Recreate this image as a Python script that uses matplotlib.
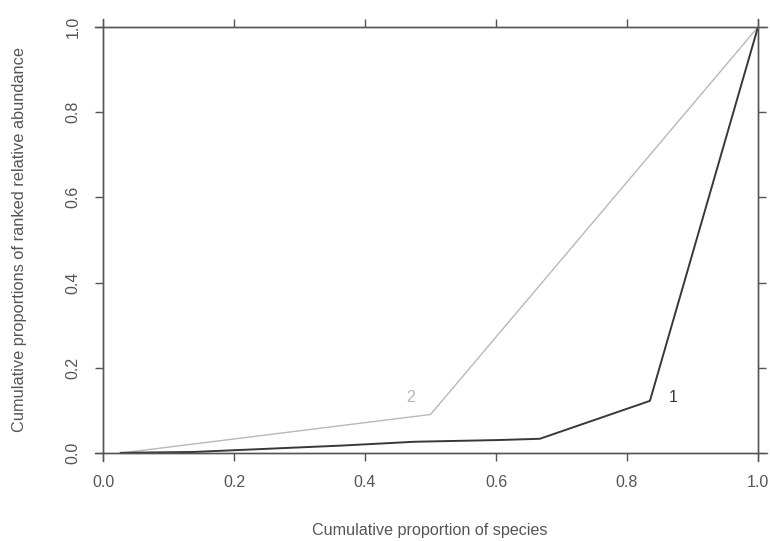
import matplotlib
matplotlib.use('Agg')
import matplotlib.pyplot as plt

plt.rcParams['font.family'] = ['Liberation Sans', 'DejaVu Sans']

# cumulative proportion of species (x) vs cumulative proportion of ranked abundance (y)
x1 = [0.027, 0.138, 0.229, 0.364, 0.476, 0.604, 0.667, 0.835, 1.0]
y1 = [0.0, 0.002, 0.008, 0.017, 0.026, 0.030, 0.033, 0.122, 1.0]
x2 = [0.03, 0.50, 1.0]
y2 = [0.0, 0.09, 1.0]

label_pos = {'1': (0.87, 0.13), '2': (0.47, 0.13)}

dark = '#383838'
light = '#b8b8b8'
axis_col = '#555555'
text_col = '#555555'

fig = plt.figure(figsize=(7.7, 5.41), dpi=100)
ax = fig.add_axes([0.1338, 0.163, 0.8506, 0.787])

ax.plot(x2, y2, color=light, linewidth=1.0)
ax.plot(x1, y1, color=dark, linewidth=1.4)

ax.text(*label_pos['1'], '1', color=dark, fontsize=11.5, ha='center', va='center')
ax.text(*label_pos['2'], '2', color=light, fontsize=11.5, ha='center', va='center')

ax.set_xlim(0, 1)
ax.set_ylim(0, 1)
ticks = [0.0, 0.2, 0.4, 0.6, 0.8, 1.0]
ax.set_xticks(ticks)
ax.set_yticks(ticks)
ax.set_xticklabels([f'{t:.1f}' for t in ticks])
ax.set_yticklabels([f'{t:.1f}' for t in ticks], rotation=90, va='center')

for s in ax.spines.values():
    s.set_color(axis_col)
    s.set_linewidth(1.0)

ax.tick_params(axis='both', which='both', direction='out', length=6, width=1.0,
               color=axis_col, labelcolor=text_col, labelsize=11.5,
               top=True, right=True, pad=10)

# axis lines running slightly past the corners
ext = 0.013
for y in (0, 1):
    ax.plot([-ext, 1 + ext], [y, y], transform=ax.transAxes, color=axis_col,
            linewidth=1.0, clip_on=False)
for x in (0, 1):
    ax.plot([x, x], [-ext * 1.4, 1 + ext * 1.4], transform=ax.transAxes,
            color=axis_col, linewidth=1.0, clip_on=False)

fig.text(0.558, 0.006, 'Cumulative proportion of species', ha='center', va='bottom',
         fontsize=11.6, color=text_col)
fig.text(0.025, 0.557, 'Cumulative proportions of ranked relative abundance',
         rotation=90, ha='center', va='center', fontsize=11.8, color=text_col)

fig.savefig('out.png', dpi=100)
